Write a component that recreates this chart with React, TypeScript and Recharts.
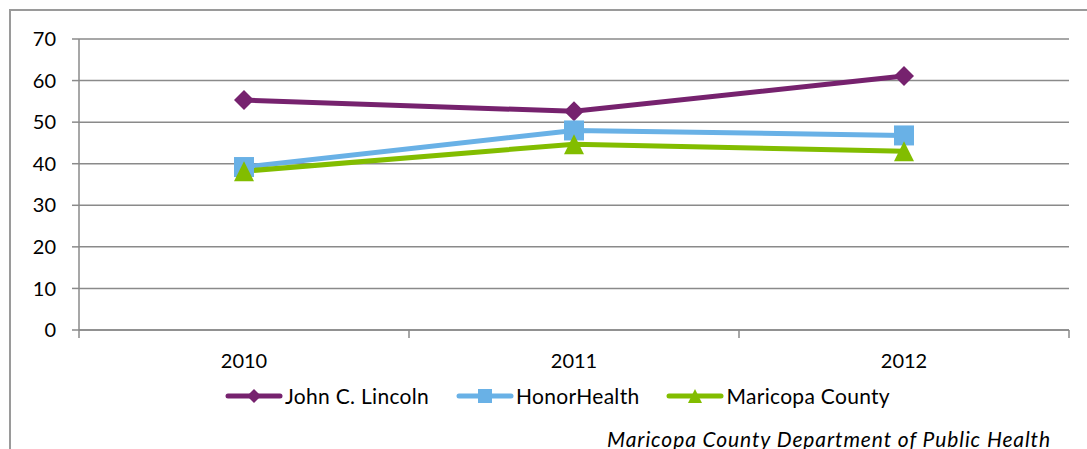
import { LineChart, Line, XAxis, YAxis, CartesianGrid, Legend } from 'recharts';

const years = ['2010', '2011', '2012'];
const johnLincoln = [55.3, 52.6, 61.1];
const honorHealth = [39.2, 48.0, 46.8];
const maricopa = [38.2, 44.7, 43.0];
const yTicks = [0, 10, 20, 30, 40, 50, 60, 70];

const seriesInfo = [
  { key: 'john', name: 'John C. Lincoln', color: '#76226E', shape: 'diamond' },
  { key: 'honor', name: 'HonorHealth', color: '#69B1E6', shape: 'square' },
  { key: 'maricopa', name: 'Maricopa County', color: '#82BD00', shape: 'triangle' },
];

const data = years.map((year, i) => ({
  year,
  john: johnLincoln[i],
  honor: honorHealth[i],
  maricopa: maricopa[i],
}));

const FONT = 'Lato, "Open Sans", sans-serif';
const GRID = '#8a8a8a';
const PLOT_LEFT = 79;
const PLOT_RIGHT = 1069;
const PLOT_BOTTOM = 330;
const BAND = (PLOT_RIGHT - PLOT_LEFT) / years.length;

function Marker({ shape, cx, cy, r, color }: { shape: string; cx: number; cy: number; r: number; color: string }) {
  if (shape === 'diamond') {
    return <polygon points={`${cx},${cy - r} ${cx + r},${cy} ${cx},${cy + r} ${cx - r},${cy}`} fill={color} />;
  }
  if (shape === 'square') {
    return <rect x={cx - r} y={cy - r} width={r * 2} height={r * 2} fill={color} />;
  }
  return <polygon points={`${cx},${cy - r} ${cx + r},${cy + r} ${cx - r},${cy + r}`} fill={color} />;
}

const makeDot = (shape: string, color: string) => (props: any) => {
  const { cx, cy, index } = props;
  if (cx == null || cy == null) return <g key={index} />;
  return <Marker key={index} shape={shape} cx={cx} cy={cy} r={10} color={color} />;
};

function XTick(props: any) {
  const { payload, index } = props;
  const x = payload.coordinate;
  return (
    <g>
      <line x1={x - BAND / 2} x2={x - BAND / 2} y1={PLOT_BOTTOM} y2={PLOT_BOTTOM + 8} stroke={GRID} strokeWidth={1.5} />
      {index === years.length - 1 && (
        <line x1={x + BAND / 2} x2={x + BAND / 2} y1={PLOT_BOTTOM} y2={PLOT_BOTTOM + 8} stroke={GRID} strokeWidth={1.5} />
      )}
      <text x={x} y={368} textAnchor="middle" fontSize={20} fontFamily={FONT} fill="#000">
        {payload.value}
      </text>
    </g>
  );
}

function LegendContent() {
  return (
    <div style={{ display: 'flex', gap: 27, paddingLeft: 225, fontFamily: FONT, fontSize: 21, letterSpacing: 0.3, color: '#000' }}>
      {seriesInfo.map((s) => (
        <div key={s.key} style={{ display: 'flex', alignItems: 'center' }}>
          <svg width={58} height={22}>
            <line x1={3} x2={55} y1={11} y2={11} stroke={s.color} strokeWidth={5} strokeLinecap="round" />
            <Marker shape={s.shape} cx={29} cy={11} r={7} color={s.color} />
          </svg>
          <span style={{ marginLeft: 2 }}>{s.name}</span>
        </div>
      ))}
    </div>
  );
}

export default function App() {
  return (
    <div style={{ position: 'absolute', left: 0, top: 0, width: 1087, height: 449, background: '#fff', overflow: 'hidden' }}>
      <div
        style={{
          position: 'absolute',
          left: 9,
          top: 9,
          width: 1100,
          height: 460,
          border: '2px solid #9a9a9a',
        }}
      />
      <LineChart width={1087} height={449} data={data} margin={{ top: 39, right: 18, bottom: 79, left: 0 }}>
        <CartesianGrid vertical={false} stroke={GRID} strokeWidth={1.5} />
        <XAxis
          dataKey="year"
          height={40}
          padding={{ left: BAND / 2, right: BAND / 2 }}
          axisLine={{ stroke: GRID, strokeWidth: 1.5 }}
          tickLine={false}
          tick={<XTick />}
          interval={0}
        />
        <YAxis
          width={79}
          domain={[0, 70]}
          ticks={yTicks}
          axisLine={{ stroke: GRID, strokeWidth: 1.5 }}
          tickLine={{ stroke: GRID, strokeWidth: 1.5 }}
          tickSize={7}
          tickMargin={16}
          tick={{ fontSize: 20, fontFamily: FONT, fill: '#000' }}
        />
        <Legend
          layout="horizontal"
          verticalAlign="middle"
          align="center"
          wrapperStyle={{ position: 'absolute', top: 383, left: 0, width: 1087 }}
          content={<LegendContent />}
        />
        {seriesInfo.map((s) => (
          <Line
            key={s.key}
            type="linear"
            dataKey={s.key}
            name={s.name}
            stroke={s.color}
            strokeWidth={5}
            dot={makeDot(s.shape, s.color)}
            activeDot={false}
            isAnimationActive={false}
          />
        ))}
      </LineChart>
      <div
        style={{
          position: 'absolute',
          left: 607,
          top: 426,
          fontFamily: FONT,
          fontStyle: 'italic',
          fontSize: 21,
          letterSpacing: 0.9,
          color: '#000',
          whiteSpace: 'nowrap',
        }}
      >
        Maricopa County Department of Public Health
      </div>
    </div>
  );
}
